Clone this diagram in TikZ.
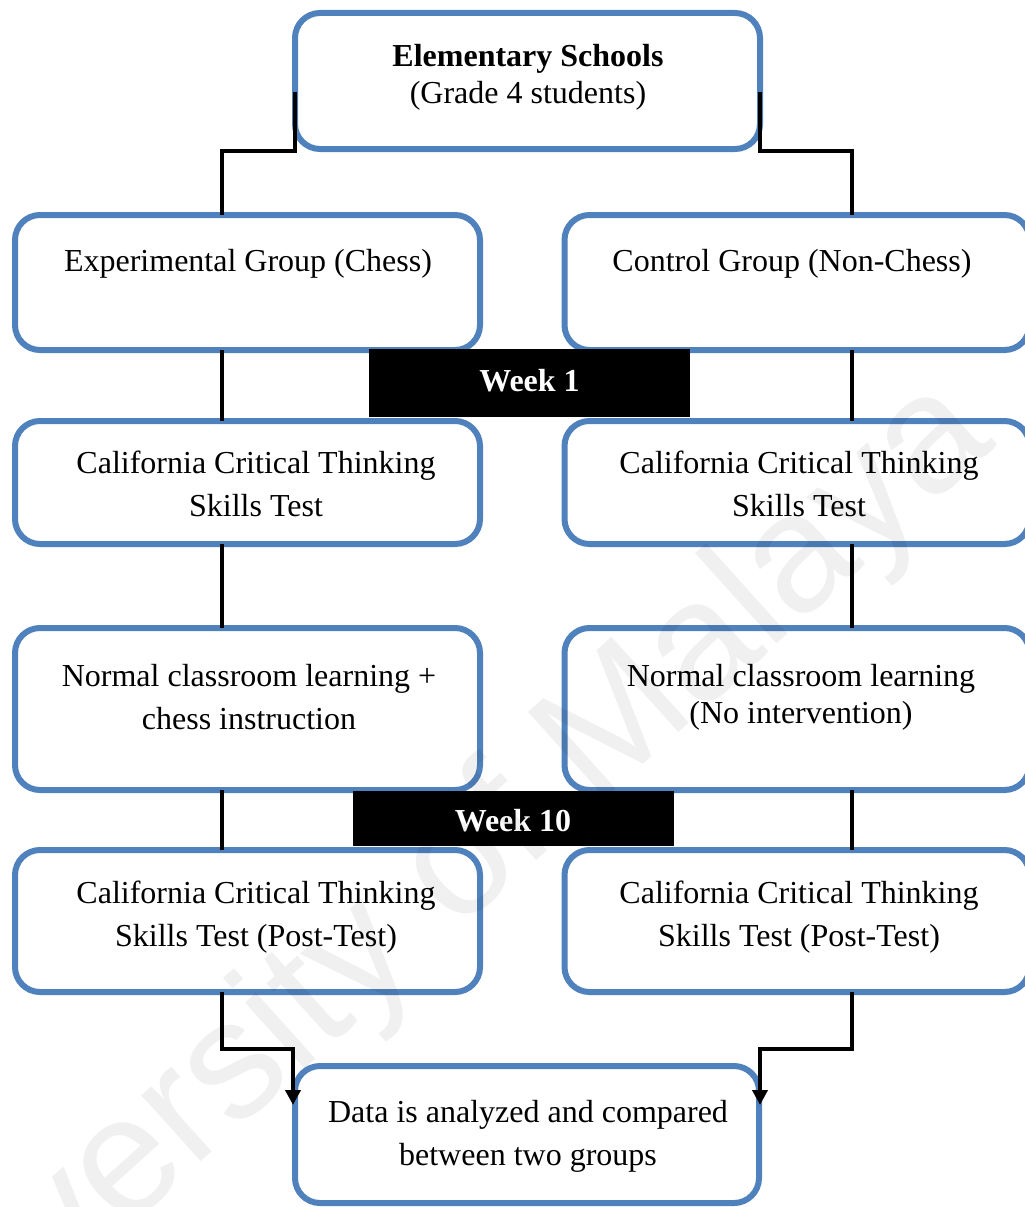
\documentclass[tikz,border=0pt]{standalone}
\usepackage{fontspec}
\setmainfont{Liberation Serif}
\newfontfamily\wmfont{Liberation Sans}
\usetikzlibrary{arrows.meta}
\definecolor{boxblue}{HTML}{4F81BD}
\begin{document}
\begin{tikzpicture}[x=1pt,y=-1pt,
  box/.style={draw=boxblue, line width=6pt, rounded corners=25pt, outer sep=0pt, fill=white, minimum width=465pt},
  txt/.style={align=center, font=\fontsize{32}{43}\selectfont, inner sep=0pt},
  txttight/.style={align=center, font=\fontsize{32}{37}\selectfont, inner sep=0pt},
  weekbox/.style={fill=black, inner sep=0pt, outer sep=0pt, minimum width=321pt},
  weektxt/.style={text=white, font=\fontsize{32}{38}\bfseries\selectfont, inner sep=0pt},
  conn/.style={line width=4.5pt, black},
  arr/.style={conn, -{Triangle[width=15pt,length=15pt]}}
]
\fill[white] (0,0) rectangle (1025,1207);
\useasboundingbox (0,0) rectangle (1025,1207);
\coordinate (lcol) at (222,0);
\coordinate (rcol) at (852,0);

% boxes
\node[box, minimum height=136pt] (top) at (527.5,81) {};
\node[box, minimum height=135pt] (exp) at (247.5,282.5) {};
\node[box, minimum height=135pt] (ctl) at (797,282.5) {};
\node[box, minimum height=123pt] (cc1) at (247.5,482.5) {};
\node[box, minimum height=123pt] (cc2) at (797,482.5) {};
\node[box, minimum height=162pt] (nl1) at (247.5,709) {};
\node[box, minimum height=162pt] (nl2) at (797,709) {};
\node[box, minimum height=142pt] (pt1) at (247.5,921) {};
\node[box, minimum height=142pt] (pt2) at (797,921) {};
\node[box, minimum width=464pt, minimum height=137pt] (bot) at (527,1134.5) {};

% texts
\node[txttight] (topt) at (528,77) {\textbf{Elementary Schools}\\(Grade 4 students)};
\node[txt] (expt) at (248,264) {Experimental Group (Chess)};
\node[txt] (ctlt) at (792,264) {Control Group (Non-Chess)};
\node[txt] (cc1t) at (256,483.5) {California Critical Thinking\\Skills Test};
\node[txt] (cc2t) at (799,483.5) {California Critical Thinking\\Skills Test};
\node[txt] (nl1t) at (249,697.5) {Normal classroom learning +\\chess instruction};
\node[txttight] (nl2t) at (801,697) {Normal classroom learning\\(No intervention)};
\node[txt] (pt1t) at (256,917.5) {California Critical Thinking\\Skills Test (Post-Test)};
\node[txt] (pt2t) at (799,917.5) {California Critical Thinking\\Skills Test (Post-Test)};
\node[txt] (bott) at (528,1136) {Data is analyzed and compared\\between two groups};

% connectors
\draw[conn] ([yshift=-11pt]top.west) -- ++(0,59) -| (lcol |- exp.north);
\draw[conn] ([yshift=-11pt]top.east) -- ++(0,59) -| (rcol |- ctl.north);
\draw[conn] (lcol |- exp.south) -- (lcol |- cc1.north);
\draw[conn] (rcol |- ctl.south) -- (rcol |- cc2.north);
\draw[conn] (lcol |- cc1.south) -- (lcol |- nl1.north);
\draw[conn] (rcol |- cc2.south) -- (rcol |- nl2.north);
\draw[conn] (lcol |- nl1.south) -- (lcol |- pt1.north);
\draw[conn] (rcol |- nl2.south) -- (rcol |- pt2.north);
\draw[arr] (lcol |- pt1.south) -- ++(0,57) -| ([xshift=-2pt,yshift=29.5pt]bot.west);
\draw[arr] (rcol |- pt2.south) -- ++(0,57) -| ([xshift=1pt,yshift=29.5pt]bot.east);

% week labels
\node[weekbox, minimum height=68pt] (wk1) at (529.5,383) {};
\node[weektxt] (wk1t) at (529.5,381) {Week 1};
\node[weekbox, minimum height=55pt] (wk10) at (513,818.5) {};
\node[weektxt] (wk10t) at (513,821) {Week 10};

% watermark
\node[rotate=42, anchor=base east, font=\wmfont\fontsize{168}{168}\selectfont, text=black, text opacity=0.06, inner sep=0pt] (wm) at (998,445) {University of Malaya};
\end{tikzpicture}
\end{document}
